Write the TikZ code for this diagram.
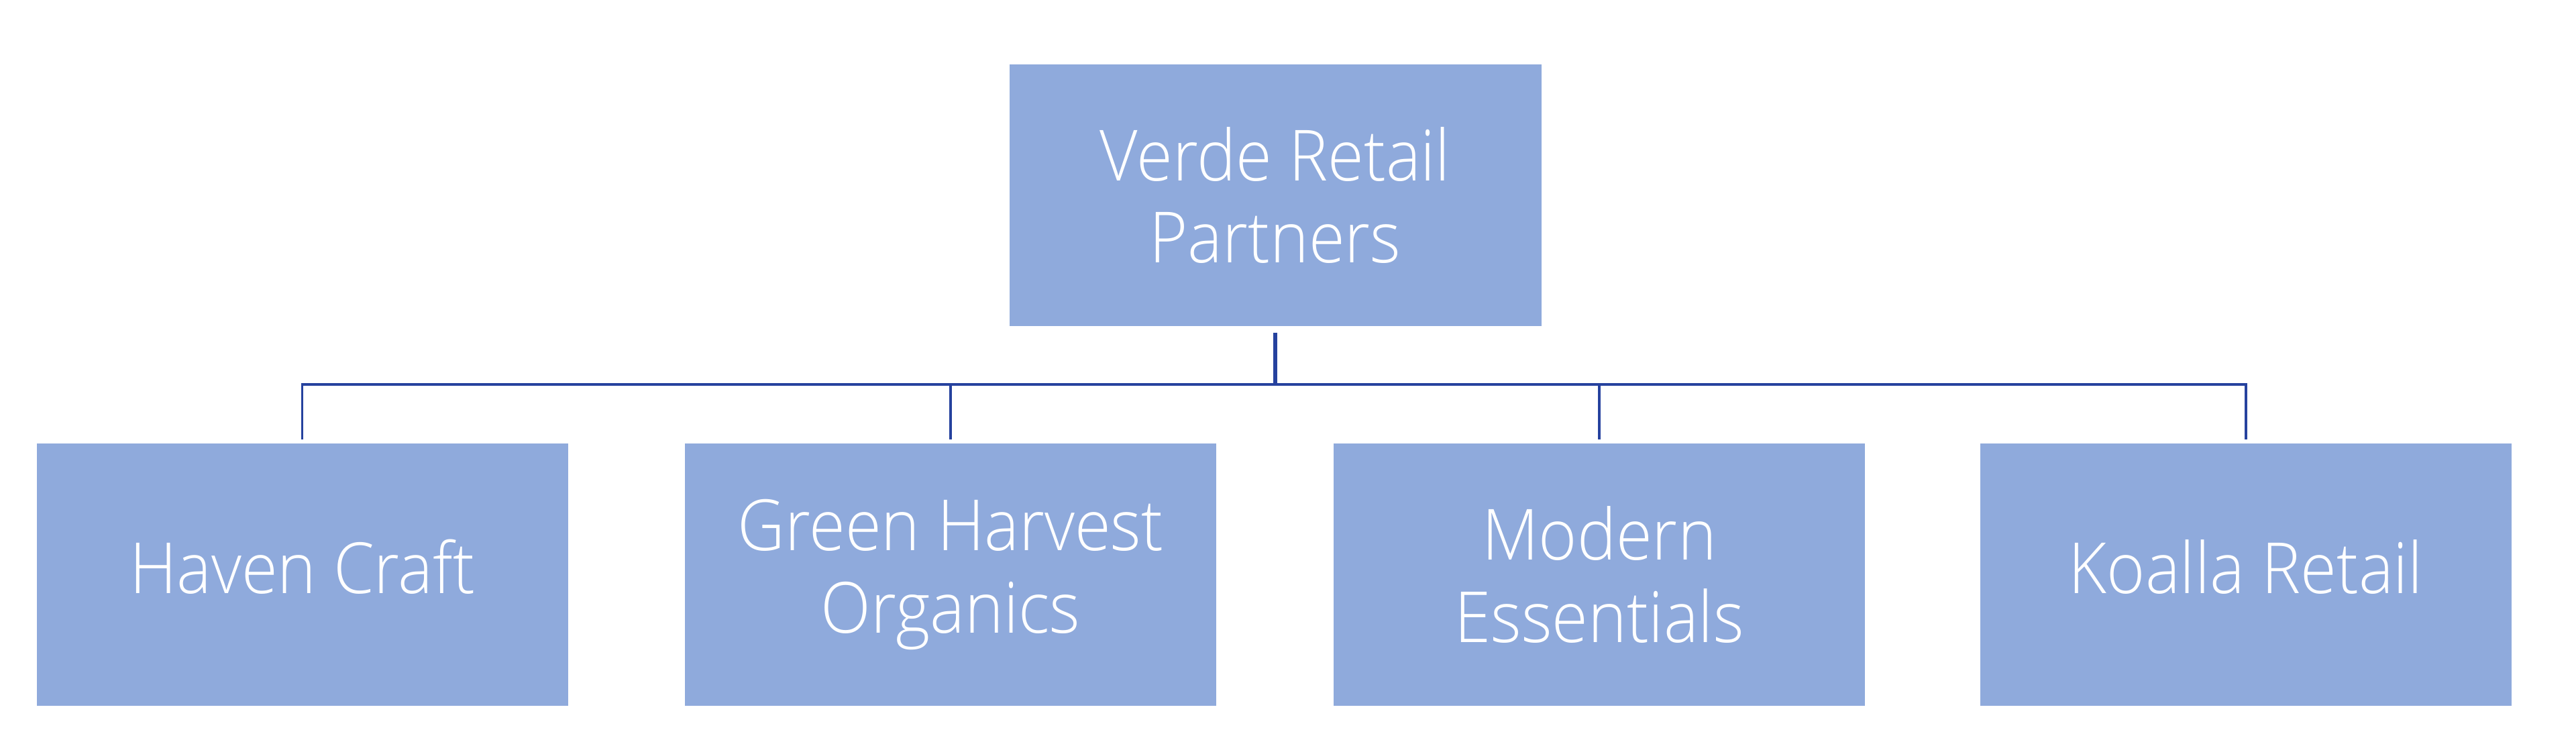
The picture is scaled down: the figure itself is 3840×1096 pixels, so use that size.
\documentclass[tikz,border=0pt]{standalone}
\usepackage{fontspec}
\setmainfont{Open Sans}[UprightFont={* Light},FakeStretch=0.93]
\definecolor{boxfill}{RGB}{143,170,220}
\definecolor{linecol}{RGB}{38,66,158}
\begin{document}
\begin{tikzpicture}[x=0.25pt,y=-0.25pt,
  orgbox/.style={fill=boxfill,draw=none,minimum width=198pt,minimum height=97.75pt,inner sep=0pt,
    text=white,align=center,font=\fontsize{26.3pt}{30.6pt}\selectfont},
  oneline/.style={orgbox,text depth=6pt},
  topbox/.style={orgbox,minimum width=198.25pt,minimum height=97.6pt},
  conn/.style={draw=linecol,line width=0.8pt},
  stem/.style={draw=linecol,line width=1.5pt}]
\useasboundingbox (0,0) rectangle (3840,1096);
\node[topbox] (top) at (1901,290.75) {Verde Retail\\Partners};
\node[oneline] (b1) at (450.5,856.5) {Haven Craft};
\node[orgbox] (b2) at (1417,856.5) {Green Harvest\\Organics};
\node[orgbox] (b3) at (2384,856.5) {Modern\\Essentials};
\node[oneline] (b4) at (3348,856.5) {Koalla Retail};
\coordinate (bus) at (1901,573);
\draw[stem,shorten <=2.2pt] (top.south) -- (bus);
\foreach \b in {b1,b2,b3,b4}
  \draw[conn,shorten >=1.2pt] (bus) -| (\b.north);
\end{tikzpicture}
\end{document}
